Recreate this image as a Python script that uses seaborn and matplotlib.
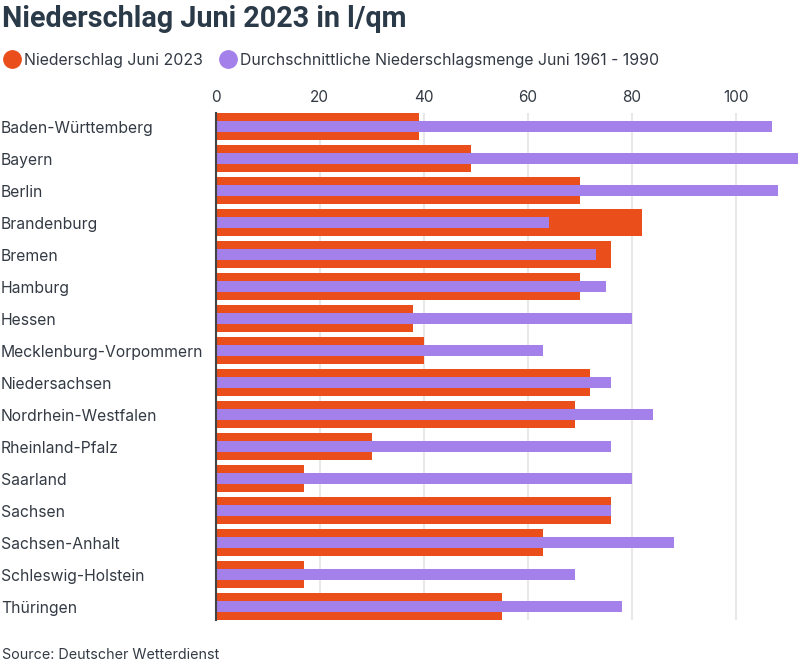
import numpy as np
import pandas as pd
import matplotlib
matplotlib.use('Agg')
import matplotlib.pyplot as plt
from matplotlib.lines import Line2D
import seaborn as sns

# Data
states = [
    'Baden-Württemberg', 'Bayern', 'Berlin', 'Brandenburg', 'Bremen',
    'Hamburg', 'Hessen', 'Mecklenburg-Vorpommern', 'Niedersachsen',
    'Nordrhein-Westfalen', 'Rheinland-Pfalz', 'Saarland', 'Sachsen',
    'Sachsen-Anhalt', 'Schleswig-Holstein', 'Thüringen',
]
rain_2023 = [39, 49, 70, 82, 76, 70, 38, 40, 72, 69, 30, 17, 76, 63, 17, 55]
rain_avg = [107, 112, 108, 64, 73, 75, 80, 63, 76, 84, 76, 80, 76, 88, 69, 78]

label_2023 = 'Niederschlag Juni 2023'
label_avg = 'Durchschnittliche Niederschlagsmenge Juni 1961 - 1990'
xticks = [0, 20, 40, 60, 80, 100]

orange = '#E94E1B'
purple = '#A480EA'
text_col = '#333a44'

sns.set_style('white')
plt.rcParams['font.family'] = ['Inter', 'DejaVu Sans']

df = pd.DataFrame({'state': states, 'rain_2023': rain_2023, 'rain_avg': rain_avg})

fig = plt.figure(figsize=(8, 6.65), dpi=100)
ax = fig.add_axes([0.2696, 0.0677, 0.7304, 0.7619])

sns.barplot(data=df, x='rain_2023', y='state', orient='h', color=orange,
            width=0.84, saturation=1, linewidth=0, ax=ax, zorder=2)
sns.barplot(data=df, x='rain_avg', y='state', orient='h', color=purple,
            width=0.34, saturation=1, linewidth=0, ax=ax, zorder=3)

ax.set_xlim(0, 112.3)
ax.set_ylim(len(states) - 0.58, -0.42)
ax.set_xlabel('')
ax.set_ylabel('')

ax.xaxis.tick_top()
ax.set_xticks(xticks)
ax.tick_params(axis='x', length=0, pad=6, labelsize=11, labelcolor=text_col)
ax.tick_params(axis='y', length=0, pad=154.5, labelsize=11.3, labelcolor=text_col)
for lbl in ax.get_yticklabels():
    lbl.set_horizontalalignment('left')

ax.grid(axis='x', color='#e8e8e8', linewidth=1.5, zorder=0)
ax.set_axisbelow(True)
for side in ['top', 'right', 'bottom']:
    ax.spines[side].set_visible(False)
ax.spines['left'].set_color('#444444')
ax.spines['left'].set_linewidth(1.5)
ax.spines['left'].set_zorder(5)

# Title
fig.text(0.003, 0.972, 'Niederschlag Juni 2023 in l/qm', fontsize=20.7,
         fontweight='bold', color='#2b3a48', va='center', ha='left',
         family=['Roboto', 'DejaVu Sans'])

# Legend
handles = [
    Line2D([], [], marker='o', linestyle='', markersize=12.5, color=orange),
    Line2D([], [], marker='o', linestyle='', markersize=12.5, color=purple),
]
fig.legend(handles, [label_2023, label_avg], loc='center left',
           bbox_to_anchor=(-0.015, 0.909), ncol=2, frameon=False,
           handletextpad=0.2, columnspacing=0.95, handlelength=1.2,
           fontsize=11.4, labelcolor=text_col)

# Source
fig.text(0.003, 0.015, 'Source: Deutscher Wetterdienst', fontsize=10.3,
         color=text_col, ha='left', va='center')

fig.savefig('out.png', dpi=100)
